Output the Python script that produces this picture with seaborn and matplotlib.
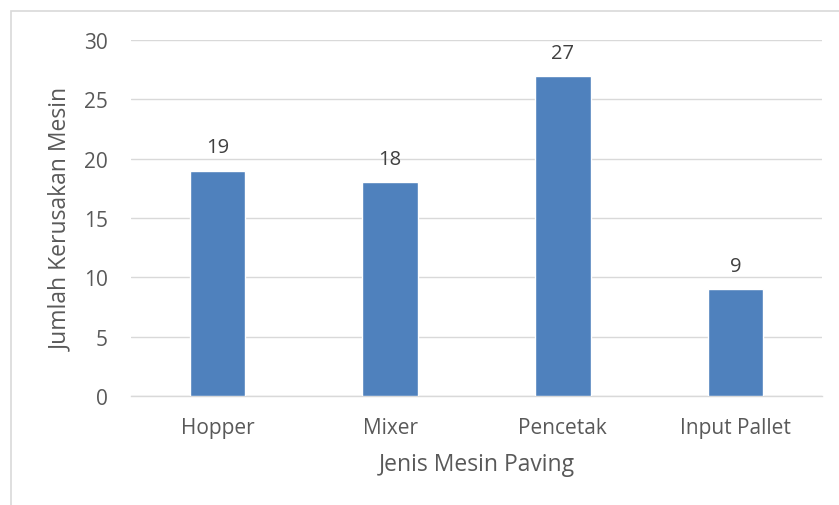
import matplotlib
matplotlib.use("Agg")
import matplotlib.pyplot as plt
import matplotlib.patches as mpatches
import seaborn as sns
import pandas as pd

# data
mesin = ["Hopper", "Mixer", "Pencetak", "Input Pallet"]
kerusakan = [19, 18, 27, 9]

df = pd.DataFrame({"Jenis Mesin Paving": mesin, "Jumlah Kerusakan Mesin": kerusakan})

sns.set_style("white")
plt.rcParams["font.family"] = ["Open Sans", "DejaVu Sans"]

fig = plt.figure(figsize=(8.39, 5.06), dpi=100)
ax = fig.add_axes([131 / 839, 1 - 397 / 506, 691 / 839, 356 / 506])

sns.barplot(data=df, x="Jenis Mesin Paving", y="Jumlah Kerusakan Mesin",
            color="#4F81BD", saturation=1, width=0.32, ax=ax, zorder=3)

# value labels above bars
for p, v in zip(ax.patches, kerusakan):
    ax.annotate(str(v), (p.get_x() + p.get_width() / 2, v),
                xytext=(0, 13), textcoords="offset points",
                ha="center", va="baseline", fontsize=14.5, color="#404040")

ax.set_ylim(0, 30)
ax.set_xlim(-0.5, 3.5)
ax.set_yticks(range(0, 31, 5))
ax.yaxis.grid(True, color="#D9D9D9", linewidth=1, zorder=0)
ax.set_axisbelow(True)
for s in ["top", "right", "left"]:
    ax.spines[s].set_visible(False)
ax.spines["bottom"].set_color("#D9D9D9")
ax.spines["bottom"].set_linewidth(1)

ax.tick_params(axis="both", length=0, labelsize=15, labelcolor="#595959")
ax.tick_params(axis="y", pad=16.5)
ax.tick_params(axis="x", pad=15)
ax.set_xlabel("Jenis Mesin Paving", fontsize=16.5, color="#595959", labelpad=10)
ax.set_ylabel("Jumlah Kerusakan Mesin", fontsize=16.5, color="#595959", labelpad=8)

# chart-area frame (top and left edges visible)
fig.patches.append(mpatches.Rectangle((11 / 839, -0.1), 1.2, 1.1 - 12 / 506,
                                      transform=fig.transFigure, fill=False,
                                      edgecolor="#D9D9D9", linewidth=1.2))

fig.savefig("out.png", dpi=100)
